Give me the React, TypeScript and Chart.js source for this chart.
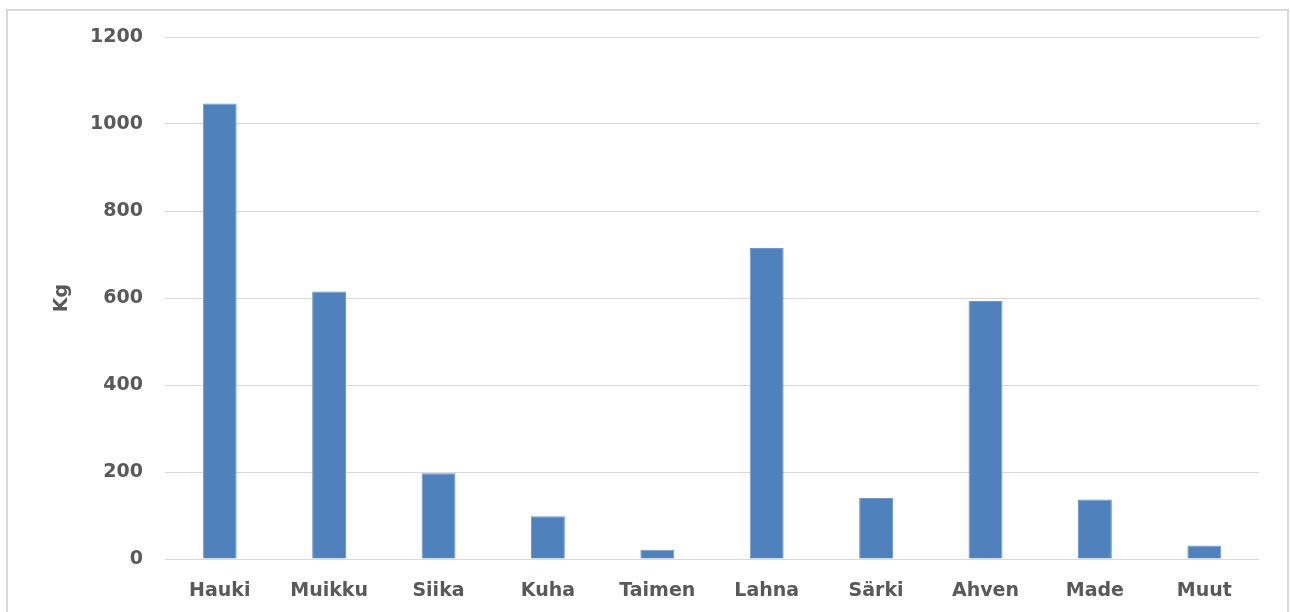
import React, { useEffect, useRef } from "react";
import { Chart, registerables } from "chart.js";

Chart.register(...registerables);

const categories: string[] = ["Hauki", "Muikku", "Siika", "Kuha", "Taimen", "Lahna", "Särki", "Ahven", "Made", "Muut"];
const kgValues: number[] = [1047, 615, 197, 98, 21, 715, 140, 593, 137, 31];
const yTicks: number[] = [0, 200, 400, 600, 800, 1000, 1200];
const yTitle = "Kg";

const FONT = "'DejaVu Sans', Verdana, sans-serif";
const TEXT = "#595959";

export default function App() {
  const ref = useRef<HTMLCanvasElement | null>(null);

  useEffect(() => {
    if (!ref.current) return;
    const chart = new Chart(ref.current, {
      type: "bar",
      data: {
        labels: categories,
        datasets: [
          {
            label: yTitle,
            data: kgValues,
            backgroundColor: "#4F81BD",
            borderColor: "#6f97c9",
            borderWidth: 1,
            categoryPercentage: 1,
            barPercentage: 0.31,
          },
        ],
      },
      options: {
        responsive: false,
        animation: false,
        layout: { padding: { top: 37, right: 31, bottom: 0, left: 0 } },
        plugins: { legend: { display: false }, tooltip: { enabled: false } },
        scales: {
          x: {
            grid: { display: false },
            border: { display: false },
            ticks: {
              color: TEXT,
              font: { family: FONT, size: 19, weight: "bold" },
              padding: 13,
              maxRotation: 0,
              autoSkip: false,
            },
            afterFit: (s: any) => {
              s.height = 53;
            },
          },
          y: {
            min: 0,
            max: 1200,
            afterBuildTicks: (s: any) => {
              s.ticks = yTicks.map((v) => ({ value: v }));
            },
            grid: { color: "#d9d9d9", lineWidth: 1, drawTicks: false },
            border: { display: false },
            ticks: {
              color: TEXT,
              font: { family: FONT, size: 19, weight: "bold" },
              padding: 22,
              callback: (v: any) => String(v),
            },
            title: {
              display: true,
              text: yTitle,
              color: TEXT,
              font: { family: FONT, size: 19, weight: "bold" },
              padding: { top: 51, bottom: 0 },
            },
            afterFit: (s: any) => {
              s.width = 165;
            },
          },
        },
      },
    });
    return () => chart.destroy();
  }, []);

  return (
    <div style={{ position: "fixed", left: 0, top: 0, width: 1290, height: 612, background: "#fff", overflow: "hidden" }}>
      <div
        style={{
          position: "absolute",
          left: 6,
          top: 9,
          width: 1283,
          height: 700,
          border: "2px solid #d9d9d9",
          boxSizing: "border-box",
        }}
      />
      <canvas ref={ref} width={1290} height={612} style={{ position: "absolute", left: 0, top: 0 }} />
    </div>
  );
}
